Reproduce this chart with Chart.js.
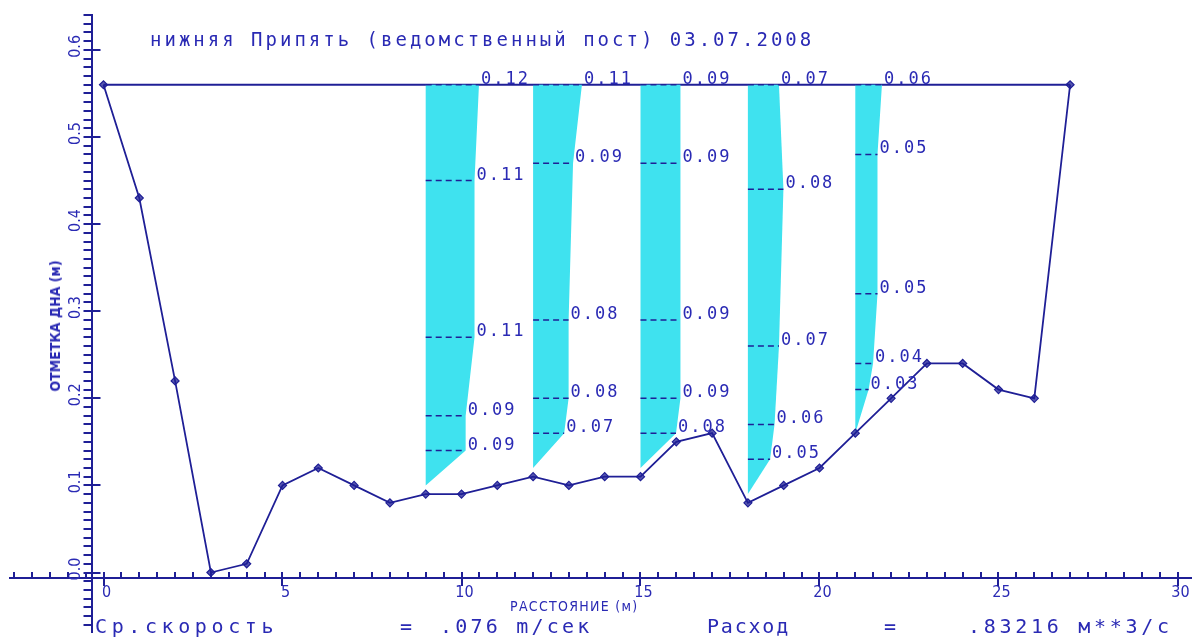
<!DOCTYPE html>
<html>
<head>
<meta charset="utf-8">
<script src="https://cdn.jsdelivr.net/npm/chart.js@4.4.1/dist/chart.umd.min.js"></script>
<style>
    html, body { margin: 0; padding: 0; background: #fff; }
    #wrap { position: relative; width: 1197px; height: 638px; overflow: hidden; }
    #chart { position: absolute; left: 0; top: 0; }
    .txt { position: absolute; color: #2a2ab4; font-family: 'DejaVu Sans Mono', monospace; white-space: pre; line-height: 1; }
    .cond { font-family: 'DejaVu Sans Condensed', 'DejaVu Sans', sans-serif; }
</style>
</head>
<body>
<div id="wrap">
    <canvas id="chart" width="1197" height="638"></canvas>
    <div class="txt" style="left:150px; top:30px; font-size:19px; letter-spacing:3px;">нижняя Припять (ведомственный пост) 03.07.2008</div>
    <div class="txt cond" style="left:510px; top:599px; font-size:14px; letter-spacing:1.3px;">РАССТОЯНИЕ (м)</div>
    <div class="txt cond" style="left:55px; top:326px; font-size:14px; font-weight:bold; transform:translate(-50%,-50%) rotate(-90deg);">ОТМЕТКА ДНА (м)</div>
    <div class="txt" style="left:95px; top:616px; font-size:20px; letter-spacing:4.6px;">Ср.скорость</div>
    <div class="txt" style="left:400px; top:616px; font-size:20px;">=</div>
    <div class="txt" style="left:440px; top:616px; font-size:20px; letter-spacing:3.2px;">.076 m/сек</div>
    <div class="txt" style="left:707px; top:616px; font-size:20px; letter-spacing:1.8px;">Расход</div>
    <div class="txt" style="left:884px; top:616px; font-size:20px;">=</div>
    <div class="txt" style="left:968px; top:616px; font-size:20px; letter-spacing:3.7px;">.83216 м**3/с</div>
</div>
<script>
    // профиль дна: расстояние (м) и отметка дна (м)
    const distance = [0, 1, 2, 3, 4, 5, 6, 7, 8, 9, 10, 11, 12, 13, 14, 15, 16, 17, 18, 19, 20, 21, 22, 23, 24, 25, 26, 27];
    const bedLevel = [0.56, 0.43, 0.22, 0.00, 0.01, 0.10, 0.12, 0.10, 0.08, 0.09, 0.09, 0.10, 0.11, 0.10, 0.11, 0.11, 0.15, 0.16, 0.08, 0.10, 0.12, 0.16, 0.20, 0.24, 0.24, 0.21, 0.20, 0.56];
    const waterLevel = 0.56;

    // скоростные вертикали
    const verticalAt = [9, 12, 15, 18, 21];
    const pointLevels = [
        [0.56, 0.45, 0.27, 0.18, 0.14],
        [0.56, 0.47, 0.29, 0.20, 0.16],
        [0.56, 0.47, 0.29, 0.20, 0.16],
        [0.56, 0.44, 0.26, 0.17, 0.13],
        [0.56, 0.48, 0.32, 0.24, 0.21]
    ];
    const pointSpeeds = [
        [0.12, 0.11, 0.11, 0.09, 0.09],
        [0.11, 0.09, 0.08, 0.08, 0.07],
        [0.09, 0.09, 0.09, 0.09, 0.08],
        [0.07, 0.08, 0.07, 0.06, 0.05],
        [0.06, 0.05, 0.05, 0.04, 0.03]
    ];
    const epureBottom = [0.10, 0.12, 0.12, 0.09, 0.16];
    const speedScale = 12.4; // м по оси расстояний на 1 м/с

    const xTickValues = [0, 5, 10, 15, 20, 25, 30];
    const xTickLabels = ['0', '5', '10', '15', '20', '25', '30'];
    const yTickValues = [0, 0.1, 0.2, 0.3, 0.4, 0.5, 0.6];
    const yTickLabels = ['0.0', '0.1', '0.2', '0.3', '0.4', '0.5', '0.6'];

    const navy = '#1f1f96';
    const textBlue = '#2a2ab4';
    const cyan = '#3fe2ef';

    // where the axes cross
    const xAxisAt = -0.0063;
    const yAxisAt = -0.335;
    const yLabelsAt = -0.78;

    // axis calibration: pixel of value 0 and pixels per unit
    const xOrigin = 103.5, xUnit = 35.8;
    const yOrigin = 572.5, yUnit = 871;

    let datasets = [];

    datasets.push({
        label: 'bed',
        data: distance.map((x, i) => ({x: x, y: bedLevel[i]})),
        borderColor: navy,
        borderWidth: 1.8,
        pointStyle: 'rectRot',
        pointRadius: 4,
        pointBackgroundColor: 'rgba(31,31,150,0.75)',
        pointBorderColor: navy,
        pointBorderWidth: 1.2,
        order: 0
    });

    datasets.push({
        label: 'water',
        data: [{x: distance[0], y: waterLevel}, {x: distance[distance.length - 1], y: waterLevel}],
        borderColor: navy,
        borderWidth: 2,
        pointRadius: 0,
        order: 3
    });

    verticalAt.forEach((st, i) => {
        let poly = [{x: st, y: epureBottom[i]}, {x: st, y: pointLevels[i][0]}];
        pointLevels[i].forEach((lv, j) => {
            poly.push({x: st + pointSpeeds[i][j] * speedScale, y: lv});
        });
        poly.push({x: st, y: epureBottom[i]});
        datasets.push({
            label: 'epure ' + st,
            data: poly,
            fill: 'shape',
            backgroundColor: cyan,
            borderWidth: 0,
            borderColor: cyan,
            pointRadius: 0,
            order: 2
        });

        let dashes = [];
        pointLevels[i].forEach((lv, j) => {
            dashes.push({x: st, y: lv});
            dashes.push({x: st + pointSpeeds[i][j] * speedScale, y: lv});
            dashes.push({x: st, y: null});
        });
        datasets.push({
            label: 'points ' + st,
            data: dashes,
            borderColor: navy,
            borderWidth: 1.5,
            borderDash: [6, 4],
            pointRadius: 0,
            spanGaps: false,
            order: 1
        });
    });

    const speedLabels = {
        id: 'speedLabels',
        afterDatasetsDraw(chart) {
            const {ctx, scales: {x, y}} = chart;
            ctx.save();
            ctx.font = '17px "DejaVu Sans Mono"';
            ctx.letterSpacing = '2px';
            ctx.fillStyle = textBlue;
            ctx.textBaseline = 'alphabetic';
            ctx.textAlign = 'left';
            verticalAt.forEach((st, i) => {
                pointLevels[i].forEach((lv, j) => {
                    const v = pointSpeeds[i][j];
                    const px = x.getPixelForValue(st + v * speedScale) + 2;
                    const py = y.getPixelForValue(lv) - 1;
                    ctx.fillText(v.toFixed(2), px, py);
                });
            });
            ctx.restore();
        }
    };

    const axisTicks = {
        id: 'axisTicks',
        afterDraw(chart) {
            const {ctx, scales: {x, y}} = chart;
            const ax = x.getPixelForValue(yAxisAt);
            const ay = y.getPixelForValue(xAxisAt);
            ctx.save();
            ctx.strokeStyle = navy;
            ctx.lineWidth = 2;
            ctx.beginPath();
            for (let i = Math.ceil(y.min * 100); i <= Math.floor(y.max * 100); i++) {
                const py = Math.round(y.getPixelForValue(i / 100));
                const major = i % 10 === 0;
                ctx.moveTo(ax - 8, py);
                ctx.lineTo(major ? ax + 9 : ax, py);
            }
            for (let i = Math.ceil(x.min * 2); i <= Math.floor(x.max * 2); i++) {
                const px = Math.round(x.getPixelForValue(i / 2));
                const major = i % 10 === 0;
                ctx.moveTo(px, ay - 6);
                ctx.lineTo(px, major ? ay + 8 : ay);
            }
            ctx.stroke();
            ctx.restore();
        }
    };

    // labels must not shrink the plot area
    const noPadding = scale => {
        scale.paddingLeft = 0;
        scale.paddingRight = 0;
        scale.paddingTop = 0;
        scale.paddingBottom = 0;
    };

    const ctx = document.getElementById('chart').getContext('2d');
    const chart = new Chart(ctx, {
        type: 'line',
        data: {datasets: datasets},
        plugins: [speedLabels, axisTicks],
        options: {
            responsive: false,
            animation: false,
            layout: {padding: {left: 10, top: 15, right: 0, bottom: 0}},
            elements: {line: {tension: 0}},
            plugins: {
                legend: {display: false},
                tooltip: {enabled: false},
                title: {display: false}
            },
            scales: {
                x: {
                    type: 'linear',
                    min: -2.61,
                    max: 30.54,
                    position: {y: xAxisAt},
                    afterBuildTicks: scale => { scale.ticks = xTickValues.map(v => ({value: v})); },
                    afterFit: noPadding,
                    grid: {display: false, drawTicks: false},
                    border: {display: true, color: navy, width: 2},
                    ticks: {
                        color: textBlue,
                        font: {family: 'DejaVu Sans Condensed', size: 16},
                        padding: 5,
                        labelOffset: 3,
                        maxRotation: 0,
                        autoSkip: false,
                        callback: (v, i) => xTickLabels[i]
                    }
                },
                y: {
                    type: 'linear',
                    min: -0.0752,
                    max: 0.6372,
                    position: {x: yAxisAt},
                    afterFit: noPadding,
                    grid: {display: false, drawTicks: false},
                    border: {display: true, color: navy, width: 2},
                    ticks: {display: false}
                },
                yl: {
                    axis: 'y',
                    type: 'linear',
                    min: -0.0752,
                    max: 0.6372,
                    position: {x: yLabelsAt},
                    afterBuildTicks: scale => { scale.ticks = yTickValues.map(v => ({value: v})); },
                    afterFit: noPadding,
                    grid: {display: false, drawTicks: false},
                    border: {display: false},
                    ticks: {
                        color: textBlue,
                        font: {family: 'DejaVu Sans Condensed', size: 16},
                        minRotation: 90,
                        maxRotation: 90,
                        labelOffset: -15,
                        autoSkip: false,
                        callback: (v, i) => yTickLabels[i]
                    }
                }
            }
        }
    });

    // fit the ranges to the real plot area so the axes land where they are in the picture
    const area = chart.chartArea;
    const sc = chart.options.scales;
    sc.x.min = (area.left - xOrigin) / xUnit;
    sc.x.max = (area.right - xOrigin) / xUnit;
    sc.y.min = sc.yl.min = (yOrigin - area.bottom) / yUnit;
    sc.y.max = sc.yl.max = (yOrigin - area.top) / yUnit;
    chart.update();
</script>
</body>
</html>
